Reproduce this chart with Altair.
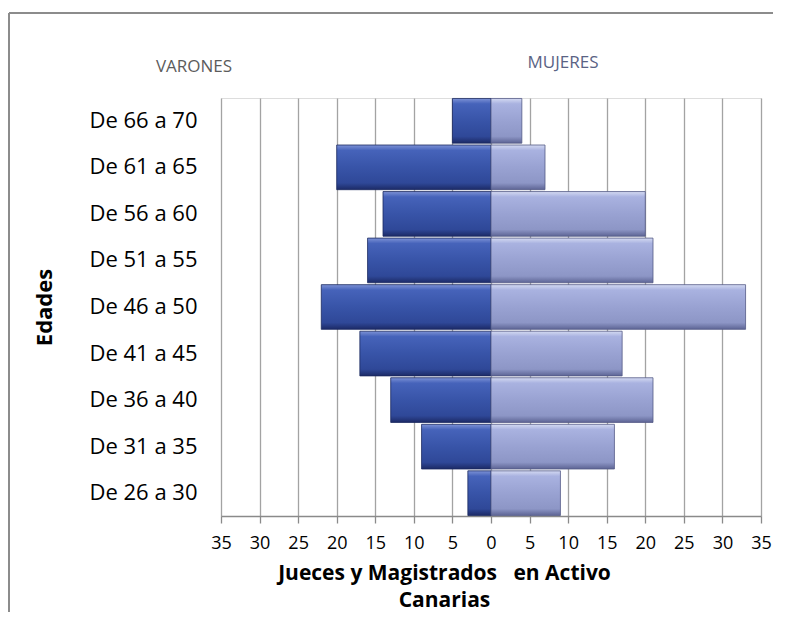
import altair as alt
import pandas as pd

edades = ["De 26 a 30", "De 31 a 35", "De 36 a 40", "De 41 a 45", "De 46 a 50",
          "De 51 a 55", "De 56 a 60", "De 61 a 65", "De 66 a 70"]
varones = [3, 9, 13, 17, 22, 16, 14, 20, 5]
mujeres = [9, 16, 21, 17, 33, 21, 20, 7, 4]
x_ticks = [-35, -30, -25, -20, -15, -10, -5, 0, 5, 10, 15, 20, 25, 30, 35]

df = pd.DataFrame({
    "edad": edades,
    "varones": [-v for v in varones],
    "mujeres": mujeres,
})
orden = list(reversed(edades))

FONT = "Open Sans"

male_grad = alt.Gradient(
    gradient="linear", x1=0, x2=0, y1=0, y2=1,
    stops=[
        alt.GradientStop(color="#7d92d6", offset=0),
        alt.GradientStop(color="#4663ba", offset=0.12),
        alt.GradientStop(color="#3854a8", offset=0.5),
        alt.GradientStop(color="#2f4898", offset=0.85),
        alt.GradientStop(color="#1c2a66", offset=1),
    ],
)
female_grad = alt.Gradient(
    gradient="linear", x1=0, x2=0, y1=0, y2=1,
    stops=[
        alt.GradientStop(color="#d4daf2", offset=0),
        alt.GradientStop(color="#a9b2e0", offset=0.12),
        alt.GradientStop(color="#99a2d2", offset=0.5),
        alt.GradientStop(color="#8d96c6", offset=0.85),
        alt.GradientStop(color="#5d6494", offset=1),
    ],
)

y_enc = alt.Y(
    "edad:N", sort=orden,
    scale=alt.Scale(paddingInner=0.04, paddingOuter=0.01),
    axis=alt.Axis(
        title="Edades", titleFont=FONT, titleFontSize=22, titleFontWeight="bold",
        titleColor="#000", titlePadding=32, labelFont=FONT, labelFontSize=22,
        labelColor="#000", labelPadding=24, domain=False, ticks=False, grid=False,
    ),
)

x_axis = alt.Axis(
    values=x_ticks, labelExpr="abs(datum.value)", labelFont=FONT, labelFontSize=18,
    labelColor="#000", labelPadding=11, labelOverlap=False, labelFlush=False,
    grid=True, gridColor="#a3a3a3", gridWidth=1.3,
    domain=True, domainColor="#8a8a8a", domainWidth=1.3,
    ticks=True, tickColor="#8a8a8a", tickSize=7, tickWidth=1.3,
    title=["Jueces y Magistrados\u00a0\u00a0 en Activo", "Canarias"],
    titleFont=FONT, titleFontSize=21, titleFontWeight="bold", titleColor="#000",
    titleX=223, titlePadding=10, titleLineHeight=27,
)
x_scale = alt.Scale(domain=[-35, 35], nice=False, zero=True)

base = alt.Chart(df)

male = base.mark_bar(color=male_grad, stroke="#1b2860", strokeWidth=0.8).encode(
    x=alt.X("varones:Q", scale=x_scale, axis=x_axis),
    y=y_enc,
)
female = base.mark_bar(color=female_grad, stroke="#545a86", strokeWidth=0.8).encode(
    x=alt.X("mujeres:Q", scale=x_scale, axis=x_axis),
    y=y_enc,
)

lbl_v = alt.Chart(pd.DataFrame({"t": ["VARONES"]})).mark_text(
    font=FONT, fontSize=17, color="#5c5c5c", baseline="middle", align="center"
).encode(text="t:N", x=alt.value(-27), y=alt.value(-31))
lbl_m = alt.Chart(pd.DataFrame({"t": ["MUJERES"]})).mark_text(
    font=FONT, fontSize=17, color="#5a6384", baseline="middle", align="center"
).encode(text="t:N", x=alt.value(342), y=alt.value(-35))

frame_top = alt.Chart(pd.DataFrame({"a": [0]})).mark_rule(color="#8c8c8c", strokeWidth=2).encode(
    x=alt.value(-212), x2=alt.value(552), y=alt.value(-85)
)
frame_left = alt.Chart(pd.DataFrame({"a": [0]})).mark_rule(color="#8c8c8c", strokeWidth=2).encode(
    x=alt.value(-212), y=alt.value(-85), y2=alt.value(514)
)

chart = alt.layer(frame_top, frame_left, male, female, lbl_v, lbl_m).properties(
    width=540, height=418,
    padding={"left": 0, "top": 4, "right": 0, "bottom": 0},
).configure_view(stroke=None).configure(background="white")

chart.save("out.html", embed_options={"renderer": "svg", "actions": False})
